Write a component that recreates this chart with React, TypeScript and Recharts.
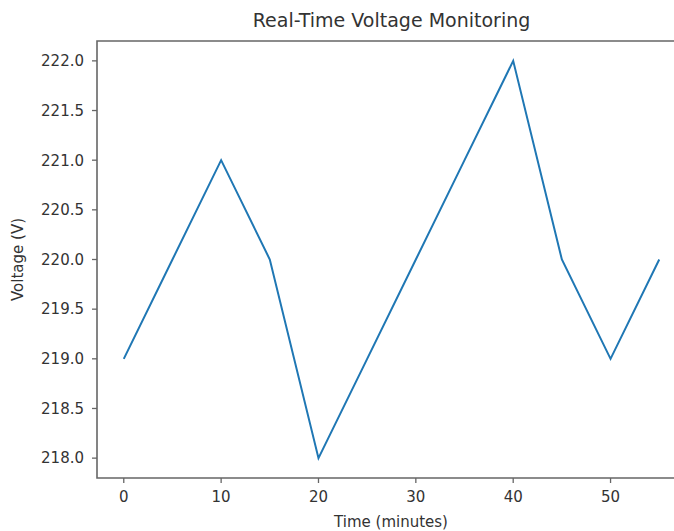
import React from "react";
import { LineChart, Line, XAxis, YAxis, ReferenceArea, Label } from "recharts";

const times = [0, 5, 10, 15, 20, 25, 30, 35, 40, 45, 50, 55];
const voltages = [219, 220, 221, 220, 218, 219, 220, 221, 222, 220, 219, 220];
const xTicks = [0, 10, 20, 30, 40, 50];
const yTicks = [218, 218.5, 219, 219.5, 220, 220.5, 221, 221.5, 222];
const xDomain: [number, number] = [-2.75, 57.75];
const yDomain: [number, number] = [217.8, 222.2];
const title = "Real-Time Voltage Monitoring";
const xLabel = "Time (minutes)";
const yLabel = "Voltage (V)";

const data = times.map((t, i) => ({ time: t, voltage: voltages[i] }));

const FONT = "'DejaVu Sans', sans-serif";
const TEXT = "#333";
const SPINE = "#666";

export default function App() {
  return (
    <div
      style={{
        position: "absolute",
        left: 0,
        top: 0,
        width: 674,
        height: 531,
        overflow: "hidden",
        background: "#fff",
        fontFamily: FONT,
      }}
    >
      <div
        style={{
          position: "absolute",
          left: 0,
          top: 8,
          width: 783,
          textAlign: "center",
          fontSize: 19,
          lineHeight: "24px",
          color: TEXT,
          fontFamily: FONT,
        }}
      >
        {title}
      </div>
      <LineChart
        width={700}
        height={531}
        data={data}
        margin={{ top: 41, right: 14, bottom: 0, left: 0 }}
        style={{ position: "absolute", left: 0, top: 0 }}
      >
        <XAxis
          dataKey="time"
          type="number"
          domain={xDomain}
          ticks={xTicks}
          allowDataOverflow
          height={53}
          axisLine={false}
          tickLine={{ stroke: SPINE, strokeWidth: 1.3 }}
          tickSize={5}
          tickMargin={8}
          tick={{ fill: TEXT, fontSize: 15, fontFamily: FONT }}
        >
          <Label
            content={() => (
              <text
                x={391}
                y={527}
                textAnchor="middle"
                fill={TEXT}
                fontSize={15}
                fontFamily={FONT}
              >
                {xLabel}
              </text>
            )}
          />
        </XAxis>
        <YAxis
          type="number"
          domain={yDomain}
          ticks={yTicks}
          allowDataOverflow
          width={97}
          axisLine={false}
          tickLine={{ stroke: SPINE, strokeWidth: 1.3 }}
          tickSize={5}
          tickMargin={8}
          tickFormatter={(v: number) => v.toFixed(1)}
          tick={{ fill: TEXT, fontSize: 15, fontFamily: FONT }}
        >
          <Label
            content={() => (
              <text
                x={23}
                y={259.5}
                transform="rotate(-90 23 259.5)"
                textAnchor="middle"
                fill={TEXT}
                fontSize={15}
                fontFamily={FONT}
              >
                {yLabel}
              </text>
            )}
          />
        </YAxis>
        <ReferenceArea
          x1={xDomain[0]}
          x2={xDomain[1]}
          y1={yDomain[0]}
          y2={yDomain[1]}
          fill="none"
          fillOpacity={0}
          stroke={SPINE}
          strokeWidth={1.6}
          ifOverflow="extendDomain"
        />
        <Line
          type="linear"
          dataKey="voltage"
          stroke="#1f77b4"
          strokeWidth={2}
          dot={false}
          activeDot={false}
          isAnimationActive={false}
        />
      </LineChart>
    </div>
  );
}
